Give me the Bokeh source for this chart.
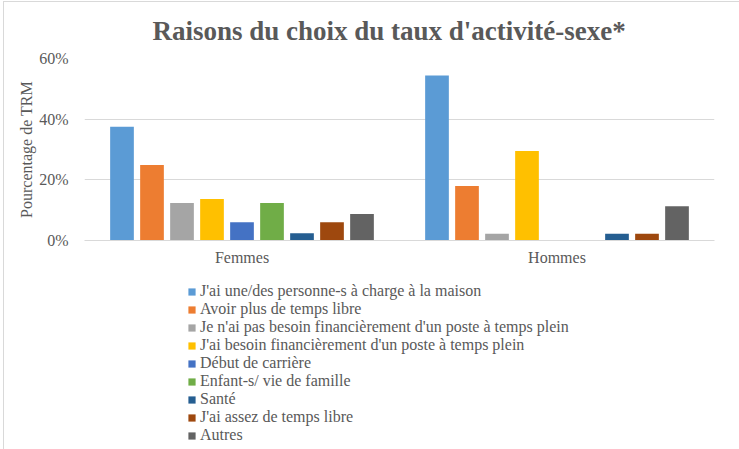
from bokeh.plotting import figure
from bokeh.layouts import column
from bokeh.models import (FactorRange, Range1d, NumeralTickFormatter, FixedTicker,
                          Legend, LegendItem, ColumnDataSource)
from bokeh.transform import dodge
from bokeh.embed import file_html
from bokeh.resources import INLINE

groups = ["Femmes", "Hommes"]
reasons = [
    "J'ai une/des personne-s à charge à la maison",
    "Avoir plus de temps libre",
    "Je n'ai pas besoin financièrement d'un poste à temps plein",
    "J'ai besoin financièrement d'un poste à temps plein",
    "Début de carrière",
    "Enfant-s/ vie de famille",
    "Santé",
    "J'ai assez de temps libre",
    "Autres",
]
femmes = [37.5, 24.9, 12.4, 13.7, 6.0, 12.4, 2.4, 6.0, 8.7]
hommes = [54.4, 18.0, 2.2, 29.5, 0.0, 0.0, 2.2, 2.2, 11.3]
colors = ["#5B9BD5", "#ED7D31", "#A5A5A5", "#FFC000", "#4472C4",
          "#70AD47", "#255E91", "#9E480E", "#636363"]
y_ticks = [0, 0.2, 0.4, 0.6]

FONT = "Liberation Serif"
TXT = "#595959"
GRID = "#d9d9d9"

sources = [ColumnDataSource(dict(x=groups, y=[femmes[i] / 100, hommes[i] / 100]))
           for i in range(len(reasons))]

# ---- chart ----
p = figure(frame_width=630, frame_height=182,
           x_range=FactorRange(*groups, range_padding=0),
           y_range=Range1d(0, 0.6), output_backend="svg", toolbar_location=None,
           min_border_left=84, min_border_right=25, min_border_top=58,
           min_border_bottom=28)
p.border_fill_color = None
p.background_fill_color = None

step = 30 / 315
bw = 23.7 / 315
for i, name in enumerate(reasons):
    p.vbar(x=dodge("x", (i - 4) * step, range=p.x_range), top="y", width=bw,
           source=sources[i], fill_color=colors[i], line_color=None)

p.title.text = "Raisons du choix du taux d'activité-sexe*"
p.title.text_font = FONT
p.title.text_font_size = "27px"
p.title.text_font_style = "bold"
p.title.text_color = TXT
p.title.align = "left"
p.title.offset = 68
p.title.standoff = 25

p.yaxis.ticker = FixedTicker(ticks=y_ticks)
p.yaxis.formatter = NumeralTickFormatter(format="0%")
p.yaxis.axis_label = "Pourcentage de TRM"
p.yaxis.axis_label_text_font = FONT
p.yaxis.axis_label_text_font_size = "16px"
p.yaxis.axis_label_text_font_style = "normal"
p.yaxis.axis_label_text_color = TXT
p.yaxis.axis_label_standoff = 1
p.yaxis.axis_line_color = None
p.yaxis.major_tick_line_color = None
p.yaxis.minor_tick_line_color = None
p.yaxis.major_tick_out = 0
p.yaxis.major_label_standoff = 16

p.xaxis.axis_line_color = GRID
p.xaxis.major_tick_line_color = None
p.xaxis.major_tick_out = 0
p.xaxis.major_label_standoff = 8

for ax in (p.xaxis, p.yaxis):
    ax.major_label_text_font = FONT
    ax.major_label_text_font_size = "16px"
    ax.major_label_text_color = TXT

p.ygrid.grid_line_color = GRID
p.xgrid.grid_line_color = None
p.outline_line_color = None

# ---- legend panel (legend swatches taken from proxy renderers kept out of view) ----
p2 = figure(width=739, height=181, x_axis_type=None, y_axis_type=None,
            x_range=FactorRange(*groups, range_padding=0), y_range=Range1d(1, 2),
            output_backend="svg", toolbar_location=None,
            min_border=0, min_border_left=0, min_border_right=0,
            min_border_top=0, min_border_bottom=0)
p2.border_fill_color = None
p2.background_fill_color = None
p2.outline_line_color = None
p2.grid.visible = False

items = []
for i, name in enumerate(reasons):
    proxy = p2.vbar(x=dodge("x", (i - 4) * step, range=p2.x_range), top="y",
                    width=bw, source=sources[i], fill_color=colors[i],
                    line_color=None)
    items.append(LegendItem(label=name, renderers=[proxy]))

legend = Legend(items=items, location=(103, 5), padding=0, margin=0,
                spacing=0, label_height=17, glyph_height=9, glyph_width=9,
                label_standoff=4, border_line_color=None,
                background_fill_alpha=0, inactive_fill_alpha=0,
                label_text_font=FONT, label_text_font_size="16px",
                label_text_color=TXT)
p2.add_layout(legend)

layout = column(p, p2, spacing=0)
layout.styles = {
    "background-color": "white",
    "background-image": f"linear-gradient({GRID},{GRID}), linear-gradient({GRID},{GRID})",
    "background-size": "1px 100%, 100% 1px",
    "background-position": "3px 1px, 3px 1px",
    "background-repeat": "no-repeat",
}

open("out.html", "w").write(file_html(layout, INLINE))
